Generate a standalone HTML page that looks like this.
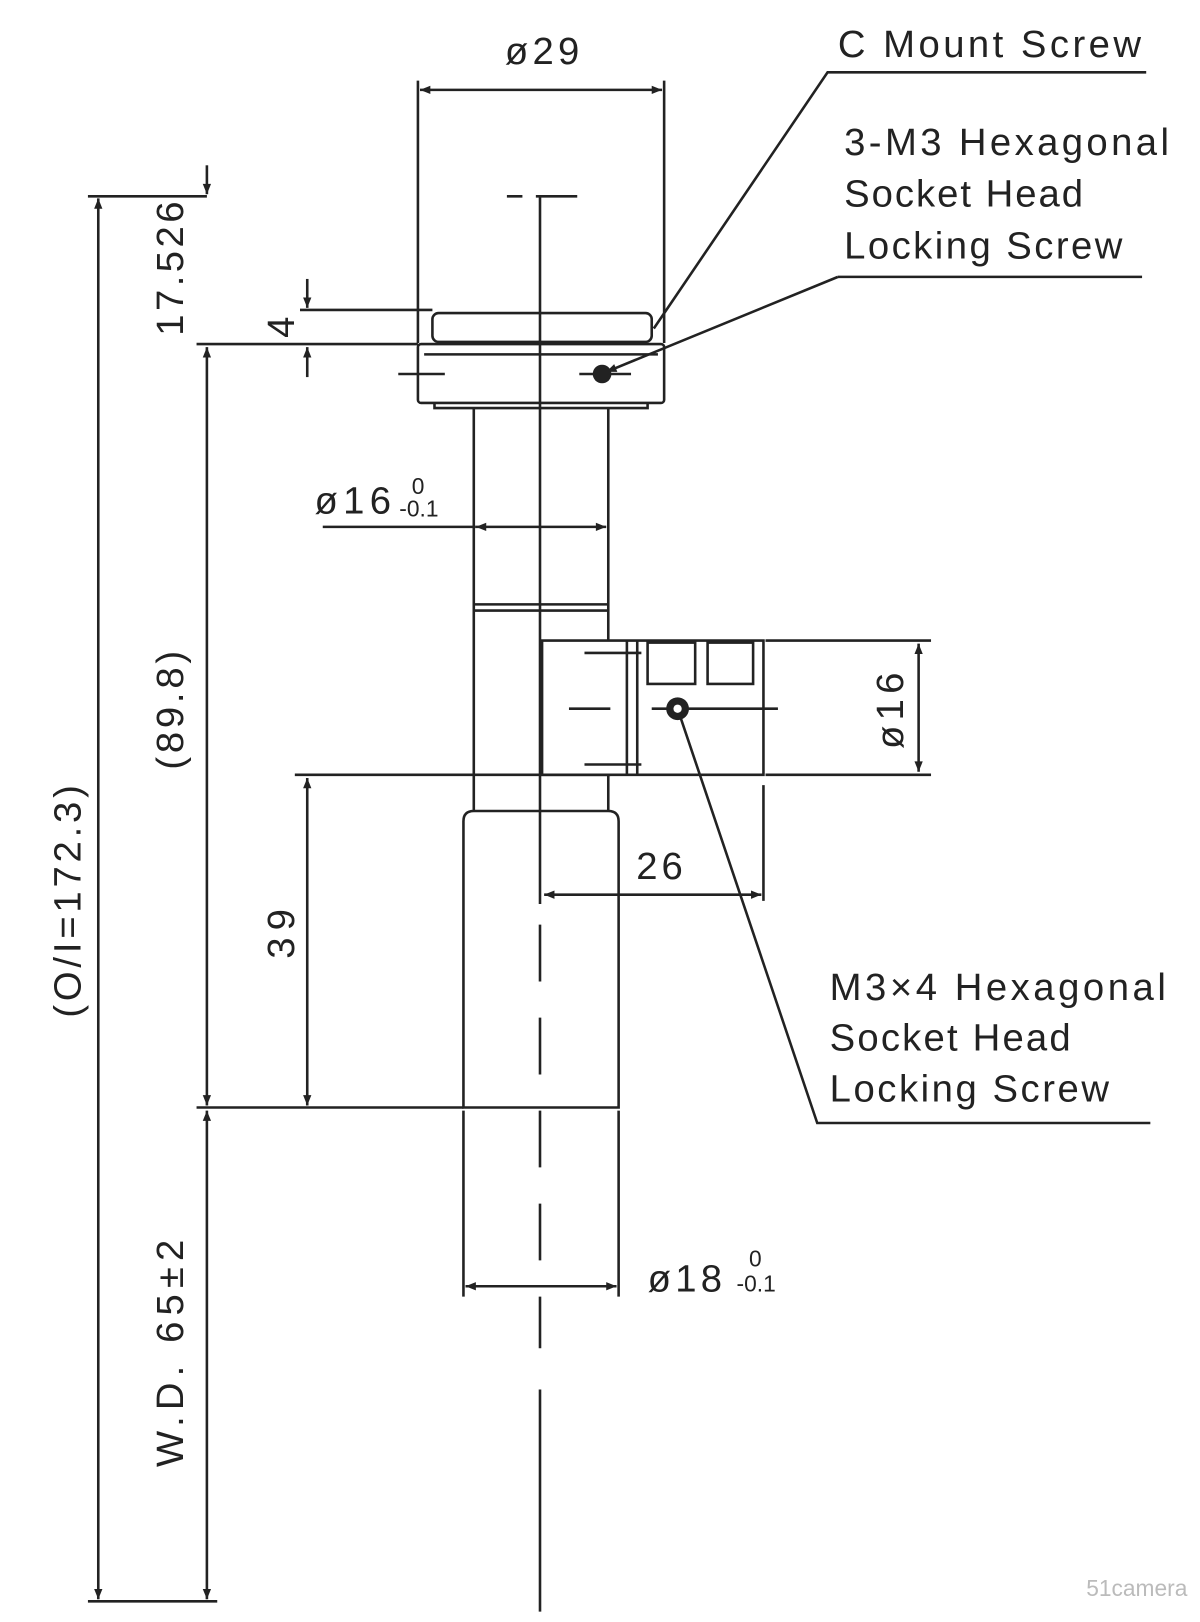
<!DOCTYPE html>
<html><head><meta charset="utf-8"><style>
html,body{margin:0;padding:0;background:#fff;}
svg{display:block}
text{font-family:"Liberation Sans",sans-serif;fill:#222;}
</style></head><body>
<svg width="1200" height="1622" viewBox="0 0 1160 1570" preserveAspectRatio="none" xmlns="http://www.w3.org/2000/svg">
<defs>
<marker id="a" viewBox="0 0 10 10" refX="10" refY="5" markerWidth="12" markerHeight="10" orient="auto-start-reverse" markerUnits="userSpaceOnUse"><path d="M0,1 L10,5 L0,9 z" fill="#222"/></marker>
</defs>
<g stroke="#222" stroke-width="2.5" fill="none">
<path d="M522 190 V875 M522 895 V950 M522 985 V1040 M522 1075 V1130 M522 1165 V1220 M522 1255 V1305 M522 1345 V1560"/>
<path d="M490 190 H505 M518 190 H558"/>
<path d="M85 190 H200 M190 333 H404 M285 750 H590 M190 1072 H448 M85 1550 H210 M290 300 H418"/>
<line x1="95" y1="192" x2="95" y2="1548" marker-start="url(#a)" marker-end="url(#a)"/>
<line x1="200" y1="336" x2="200" y2="1070" marker-start="url(#a)" marker-end="url(#a)"/>
<line x1="200" y1="1075" x2="200" y2="1548" marker-start="url(#a)" marker-end="url(#a)"/>
<line x1="297" y1="753" x2="297" y2="1070" marker-start="url(#a)" marker-end="url(#a)"/>
<line x1="200" y1="160" x2="200" y2="188" marker-end="url(#a)"/>
<line x1="297" y1="270" x2="297" y2="298" marker-end="url(#a)"/>
<line x1="297" y1="365" x2="297" y2="336" marker-end="url(#a)"/>
<path d="M404 78 V332 M642 78 V332"/>
<line x1="406" y1="87" x2="640" y2="87" marker-start="url(#a)" marker-end="url(#a)"/>
<rect x="418" y="303" width="212" height="28" rx="6"/>
<rect x="404" y="333" width="238" height="57" rx="3"/>
<path d="M410 343 H636 M420 390 V395 H626 V390"/>
<path d="M385 362 H430 M560 362 H610"/>
<path d="M458 395 V785 M588 395 V620 M588 750 V785 M458 585 H588 M458 591 H588"/>
<line x1="460" y1="510" x2="586" y2="510" marker-start="url(#a)" marker-end="url(#a)"/>
<path d="M312 510 H460"/>
<path d="M524 620 H738 V750 H524 Z M606 620 V750 M616 620 V750"/>
<rect x="626" y="622" width="46" height="40"/>
<rect x="684" y="622" width="44" height="40"/>
<path d="M565 632 H620 M550 686 H590 M565 740 H620 M630 686 H752"/>
<path d="M740 620 H900 M740 750 H900"/>
<line x1="888" y1="623" x2="888" y2="747" marker-start="url(#a)" marker-end="url(#a)"/>
<path d="M738 760 V872"/>
<line x1="526" y1="866" x2="736" y2="866" marker-start="url(#a)" marker-end="url(#a)"/>
<path d="M448 1072 V795 Q448 785 458 785 H588 Q598 785 598 795 V1072 Z"/>
<path d="M448 1075 V1255 M598 1075 V1255"/>
<line x1="450" y1="1245" x2="596" y2="1245" marker-start="url(#a)" marker-end="url(#a)"/>
<path d="M632 318 L800 70 H1108"/>
<line x1="810" y1="268" x2="586" y2="360" marker-end="url(#a)"/>
<path d="M810 268 H1104"/>
<path d="M655 686 L790 1087 H1112"/>
</g>
<circle cx="582" cy="362" r="9" fill="#222"/>
<circle cx="655" cy="686" r="11" fill="#222"/>
<circle cx="655" cy="686" r="4" fill="#fff"/>
<g font-size="37" lengthAdjust="spacingAndGlyphs">
<text x="488" y="62" textLength="72">ø29</text>
<text x="810" y="55" textLength="293">C Mount Screw</text>
<text x="816" y="150" textLength="314">3-M3 Hexagonal</text>
<text x="816" y="200" textLength="231">Socket Head</text>
<text x="816" y="250" textLength="269">Locking Screw</text>
<text x="304" y="497" textLength="74">ø16</text>
<text x="615" y="851" textLength="45">26</text>
<text x="626" y="1250" textLength="72">ø18</text>
<text x="802" y="968" textLength="325">M3×4 Hexagonal</text>
<text x="802" y="1017" textLength="233">Socket Head</text>
<text x="802" y="1066" textLength="270">Locking Screw</text>
<text transform="translate(177,325) rotate(-90)" textLength="130">17.526</text>
<text transform="translate(284,327) rotate(-90)">4</text>
<text transform="translate(177,745) rotate(-90)" textLength="115">(89.8)</text>
<text transform="translate(284,928) rotate(-90)" textLength="48">39</text>
<text transform="translate(78,985) rotate(-90)" textLength="225">(O/I=172.3)</text>
<text transform="translate(177,1420) rotate(-90)" textLength="220">W.D. 65±2</text>
<text transform="translate(873,725) rotate(-90)" textLength="74">ø16</text>
</g>
<g font-size="22">
<text x="398" y="478">0</text><text x="386" y="500">-0.1</text>
<text x="724" y="1226">0</text><text x="712" y="1250">-0.1</text>
</g>
<text x="1050" y="1545" font-size="22" style="fill:#bbb">51camera</text>
</svg>
</body></html>
